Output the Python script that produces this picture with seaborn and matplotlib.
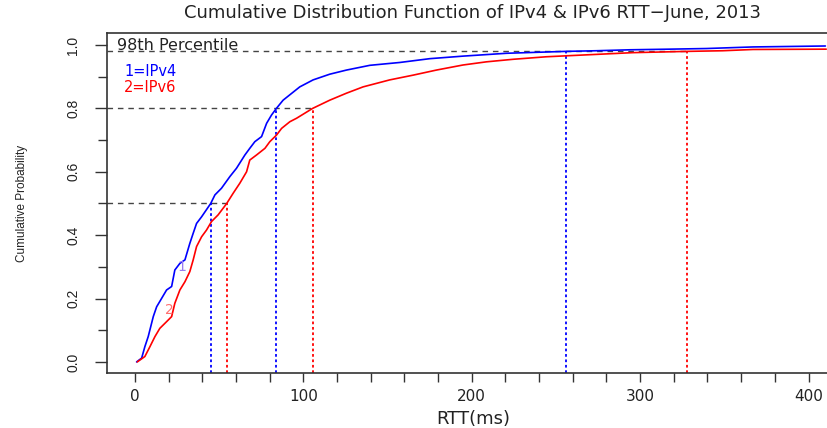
import matplotlib
matplotlib.use("Agg")
import matplotlib.pyplot as plt
import seaborn as sns
import pandas as pd
import numpy as np

# ---- data ----
ipv4_rtt = [1, 4, 5.9, 7.9, 9.9, 10.9, 12.9, 15.8, 18.8, 21.8, 23.7, 26.7, 29.7, 32.6, 34.6,
            36.6, 39.6, 45, 47.5, 51.4, 56.4, 60.3, 65.3, 68.2, 71.2, 75.2, 78.2, 81.1, 84,
            88, 92, 97.9, 105.8, 115.7, 125.6, 139.5, 157.3, 175.1, 194.8, 220.6, 256,
            273.9, 293.8, 317.5, 339.3, 367, 410]
ipv4_cdf = [0, 0.012, 0.048, 0.08, 0.122, 0.143, 0.174, 0.2, 0.227, 0.238, 0.29, 0.311, 0.322,
            0.374, 0.406, 0.437, 0.458, 0.5, 0.527, 0.548, 0.585, 0.611, 0.653, 0.674, 0.695,
            0.711, 0.753, 0.779, 0.8, 0.826, 0.843, 0.868, 0.89, 0.908, 0.921, 0.936, 0.945,
            0.957, 0.965, 0.974, 0.98, 0.982, 0.985, 0.987, 0.989, 0.994, 0.997]

ipv6_rtt = [1.4, 5.9, 8.9, 11.9, 14.8, 18.8, 21.8, 23.7, 26.7, 29.7, 32.6, 34.6, 36.6, 39.6,
            42.5, 45.5, 49.4, 54.5, 58.3, 62.3, 66.3, 68.2, 72.2, 77.2, 80.1, 84.1, 87.1, 92,
            96, 105.5, 115.7, 125.6, 135.5, 151.3, 165.2, 179, 194.8, 208.7, 224.5, 244.3,
            264.1, 295.7, 328, 349, 367, 410.5]
ipv6_cdf = [0, 0.017, 0.048, 0.08, 0.106, 0.127, 0.143, 0.185, 0.227, 0.253, 0.285, 0.322,
            0.364, 0.395, 0.416, 0.443, 0.464, 0.5, 0.532, 0.564, 0.6, 0.637, 0.653, 0.674,
            0.695, 0.716, 0.737, 0.758, 0.769, 0.8, 0.826, 0.848, 0.868, 0.89, 0.905, 0.921,
            0.937, 0.947, 0.955, 0.963, 0.968, 0.976, 0.98, 0.982, 0.986, 0.987]

pct_levels = [0.5, 0.8, 0.98]
ipv4_pct = [45, 84, 256]
ipv6_pct = [54.5, 105.5, 328]

x_major = [0, 100, 200, 300, 400]
x_minor = list(range(0, 420, 20))
y_major = [0.0, 0.2, 0.4, 0.6, 0.8, 1.0]
y_minor = [0.1, 0.3, 0.5, 0.7, 0.9]

title = "Cumulative Distribution Function of IPv4 & IPv6 RTT\u2212June, 2013"

# ---- style ----
sns.set_style("ticks")
plt.rcParams['font.family'] = ['DejaVu Sans']

BLUE = "#0000ff"
RED = "#ff0000"
NARROW = ["Liberation Sans", "DejaVu Sans"]

fig = plt.figure(figsize=(8.27, 4.28), dpi=100)
ax = fig.add_axes([107.3 / 827, (428 - 373) / 428, (853 - 107.3) / 827, (373 - 33) / 428])

df4 = pd.DataFrame({"rtt": ipv4_rtt, "cdf": ipv4_cdf})
df6 = pd.DataFrame({"rtt": ipv6_rtt, "cdf": ipv6_cdf})
sns.lineplot(data=df4, x="rtt", y="cdf", ax=ax, color=BLUE, lw=1.2,
             estimator=None, sort=False, zorder=3)
sns.lineplot(data=df6, x="rtt", y="cdf", ax=ax, color=RED, lw=1.2,
             estimator=None, sort=False, zorder=3)

xlo, xhi = -16.4, 426.4
ylo, yhi = -0.035, 1.038
ax.set_xlim(xlo, xhi)
ax.set_ylim(ylo, yhi)

# percentile guide lines
for lev, p4, p6 in zip(pct_levels, ipv4_pct, ipv6_pct):
    ax.plot([xlo, p6], [lev, lev], color="#444444", lw=1.0, dashes=(4, 3.5), zorder=2)
    ax.plot([p4, p4], [ylo, lev], color=BLUE, lw=1.3, dashes=(1.5, 1.5), zorder=2)
    ax.plot([p6, p6], [ylo, lev], color=RED, lw=1.3, dashes=(1.5, 1.5), zorder=2)

# annotations
ax.text(-10.7, 0.997, "98th Percentile", fontsize=11.5, color="#222222", va="center", ha="left")
ax.text(-6.5, 0.916, "1=IPv4", fontsize=10.5, color=BLUE, va="center", ha="left")
ax.text(-6.5, 0.867, "2=IPv6", fontsize=10.5, color=RED, va="center", ha="left")
ax.text(27.7, 0.30, "1", fontsize=10, color="#9a7cf0", va="center", ha="center")
ax.text(20.4, 0.164, "2", fontsize=10, color="#ff7070", va="center", ha="center")

# axes / ticks
ax.set_xticks(x_major)
ax.set_xticks(x_minor, minor=True)
ax.set_yticks(y_major)
ax.set_yticks(y_minor, minor=True)
ax.set_xticklabels([str(v) for v in x_major])
ax.set_yticklabels([f"{v:.1f}" for v in y_major], rotation=90, va="center",
                   family=NARROW, fontsize=10)
ax.tick_params(axis="x", which="both", direction="out", length=6.5, width=1, color="#333333",
               labelsize=11, pad=5, labelcolor="#222222")
ax.tick_params(axis="y", which="major", direction="out", length=8.5, width=1, color="#333333",
               pad=11, labelcolor="#222222")
ax.tick_params(axis="y", which="minor", direction="out", length=6.5, width=1, color="#333333")
ax.set_xlabel("")
ax.set_ylabel("")
for s in ax.spines.values():
    s.set_visible(True)
    s.set_color("#333333")
    s.set_linewidth(1.2)

fig.text(472 / 827, 1 - 13 / 428, title, ha="center", va="center", fontsize=13, color="#222222")
fig.text(473 / 827, 1 - 419 / 428, "RTT(ms)", ha="center", va="center", fontsize=13, color="#222222")
fig.text(22 / 827, 1 - 203 / 428, "Cumulative Probability", rotation=90, ha="center", va="center",
         fontsize=8.5, family=NARROW, color="#222222")

fig.savefig("out.png", dpi=100)
